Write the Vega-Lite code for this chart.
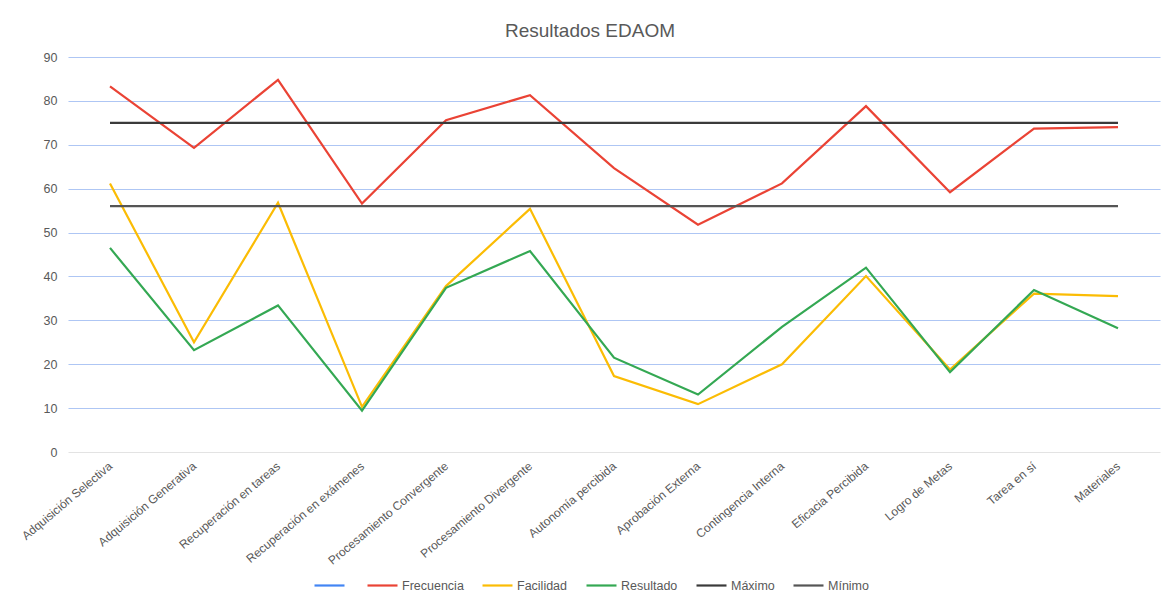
{
  "$schema": "https://vega.github.io/schema/vega-lite/v6.json",
  "width": 1092,
  "height": 395,
  "autosize": {"type": "none"},
  "padding": {"left": 68, "top": 57, "right": 4, "bottom": 146},
  "background": "white",
  "config": {
    "view": {"stroke": null},
    "font": "Liberation Sans",
    "axis": {"labelFont": "Liberation Sans", "labelColor": "#595959"}
  },
  "title": {
    "text": "Resultados EDAOM",
    "fontSize": 19,
    "fontWeight": "normal",
    "color": "#595959",
    "anchor": "middle",
    "offset": 10,
    "dx": -24
  },
  "data": {
    "values": [
      {"categoria": "Adquisición Selectiva", "serie": "Frecuencia", "valor": 83.3},
      {"categoria": "Adquisición Generativa", "serie": "Frecuencia", "valor": 69.3},
      {"categoria": "Recuperación en tareas", "serie": "Frecuencia", "valor": 84.8},
      {"categoria": "Recuperación en exámenes", "serie": "Frecuencia", "valor": 56.6},
      {"categoria": "Procesamiento Convergente", "serie": "Frecuencia", "valor": 75.6},
      {"categoria": "Procesamiento Divergente", "serie": "Frecuencia", "valor": 81.3},
      {"categoria": "Autonomía percibida", "serie": "Frecuencia", "valor": 64.7},
      {"categoria": "Aprobación Externa", "serie": "Frecuencia", "valor": 51.8},
      {"categoria": "Contingencia Interna", "serie": "Frecuencia", "valor": 61.2},
      {"categoria": "Eficacia Percibida", "serie": "Frecuencia", "valor": 78.8},
      {"categoria": "Logro de Metas", "serie": "Frecuencia", "valor": 59.2},
      {"categoria": "Tarea en sí", "serie": "Frecuencia", "valor": 73.7},
      {"categoria": "Materiales", "serie": "Frecuencia", "valor": 74.0},
      {"categoria": "Adquisición Selectiva", "serie": "Facilidad", "valor": 61.2},
      {"categoria": "Adquisición Generativa", "serie": "Facilidad", "valor": 25.0},
      {"categoria": "Recuperación en tareas", "serie": "Facilidad", "valor": 56.8},
      {"categoria": "Recuperación en exámenes", "serie": "Facilidad", "valor": 10.3},
      {"categoria": "Procesamiento Convergente", "serie": "Facilidad", "valor": 37.8},
      {"categoria": "Procesamiento Divergente", "serie": "Facilidad", "valor": 55.4},
      {"categoria": "Autonomía percibida", "serie": "Facilidad", "valor": 17.3},
      {"categoria": "Aprobación Externa", "serie": "Facilidad", "valor": 10.9},
      {"categoria": "Contingencia Interna", "serie": "Facilidad", "valor": 20.0},
      {"categoria": "Eficacia Percibida", "serie": "Facilidad", "valor": 40.1},
      {"categoria": "Logro de Metas", "serie": "Facilidad", "valor": 18.8},
      {"categoria": "Tarea en sí", "serie": "Facilidad", "valor": 36.1},
      {"categoria": "Materiales", "serie": "Facilidad", "valor": 35.5},
      {"categoria": "Adquisición Selectiva", "serie": "Resultado", "valor": 46.5},
      {"categoria": "Adquisición Generativa", "serie": "Resultado", "valor": 23.2},
      {"categoria": "Recuperación en tareas", "serie": "Resultado", "valor": 33.4},
      {"categoria": "Recuperación en exámenes", "serie": "Resultado", "valor": 9.4},
      {"categoria": "Procesamiento Convergente", "serie": "Resultado", "valor": 37.4},
      {"categoria": "Procesamiento Divergente", "serie": "Resultado", "valor": 45.8},
      {"categoria": "Autonomía percibida", "serie": "Resultado", "valor": 21.5},
      {"categoria": "Aprobación Externa", "serie": "Resultado", "valor": 13.1},
      {"categoria": "Contingencia Interna", "serie": "Resultado", "valor": 28.5},
      {"categoria": "Eficacia Percibida", "serie": "Resultado", "valor": 42.0},
      {"categoria": "Logro de Metas", "serie": "Resultado", "valor": 18.2},
      {"categoria": "Tarea en sí", "serie": "Resultado", "valor": 36.9},
      {"categoria": "Materiales", "serie": "Resultado", "valor": 28.2},
      {"categoria": "Adquisición Selectiva", "serie": "Máximo", "valor": 75},
      {"categoria": "Adquisición Generativa", "serie": "Máximo", "valor": 75},
      {"categoria": "Recuperación en tareas", "serie": "Máximo", "valor": 75},
      {"categoria": "Recuperación en exámenes", "serie": "Máximo", "valor": 75},
      {"categoria": "Procesamiento Convergente", "serie": "Máximo", "valor": 75},
      {"categoria": "Procesamiento Divergente", "serie": "Máximo", "valor": 75},
      {"categoria": "Autonomía percibida", "serie": "Máximo", "valor": 75},
      {"categoria": "Aprobación Externa", "serie": "Máximo", "valor": 75},
      {"categoria": "Contingencia Interna", "serie": "Máximo", "valor": 75},
      {"categoria": "Eficacia Percibida", "serie": "Máximo", "valor": 75},
      {"categoria": "Logro de Metas", "serie": "Máximo", "valor": 75},
      {"categoria": "Tarea en sí", "serie": "Máximo", "valor": 75},
      {"categoria": "Materiales", "serie": "Máximo", "valor": 75},
      {"categoria": "Adquisición Selectiva", "serie": "Mínimo", "valor": 56},
      {"categoria": "Adquisición Generativa", "serie": "Mínimo", "valor": 56},
      {"categoria": "Recuperación en tareas", "serie": "Mínimo", "valor": 56},
      {"categoria": "Recuperación en exámenes", "serie": "Mínimo", "valor": 56},
      {"categoria": "Procesamiento Convergente", "serie": "Mínimo", "valor": 56},
      {"categoria": "Procesamiento Divergente", "serie": "Mínimo", "valor": 56},
      {"categoria": "Autonomía percibida", "serie": "Mínimo", "valor": 56},
      {"categoria": "Aprobación Externa", "serie": "Mínimo", "valor": 56},
      {"categoria": "Contingencia Interna", "serie": "Mínimo", "valor": 56},
      {"categoria": "Eficacia Percibida", "serie": "Mínimo", "valor": 56},
      {"categoria": "Logro de Metas", "serie": "Mínimo", "valor": 56},
      {"categoria": "Tarea en sí", "serie": "Mínimo", "valor": 56},
      {"categoria": "Materiales", "serie": "Mínimo", "valor": 56}
    ]
  },
  "mark": {"type": "line", "strokeWidth": 2.2},
  "encoding": {
    "x": {
      "field": "categoria",
      "type": "nominal",
      "sort": null,
      "scale": {"type": "point", "padding": 0.5},
      "axis": {
        "title": null,
        "labelAngle": -40,
        "labelAlign": "right",
        "labelBaseline": "middle",
        "labelFontSize": 12,
        "labelPadding": 12,
        "ticks": false,
        "domain": false,
        "labelOverlap": false,
        "labelLimit": 0
      }
    },
    "y": {
      "field": "valor",
      "type": "quantitative",
      "scale": {"domain": [0, 90], "nice": false},
      "axis": {
        "title": null,
        "values": [0, 10, 20, 30, 40, 50, 60, 70, 80, 90],
        "labelFontSize": 12.5,
        "labelPadding": 11,
        "ticks": false,
        "domain": false,
        "gridColor": {"condition": {"test": "datum.value === 0", "value": "#e3e3e3"}, "value": "#aec6f4"},
        "gridWidth": 1.2
      }
    },
    "color": {
      "field": "serie",
      "type": "nominal",
      "scale": {
        "domain": [" ", "Frecuencia", "Facilidad", "Resultado", "Máximo", "Mínimo"],
        "range": ["#4285f4", "#ea4335", "#fbbc04", "#34a853", "#3a3a3a", "#555555"]
      },
      "legend": {
        "title": null,
        "orient": "none",
        "direction": "horizontal",
        "legendX": 245,
        "legendY": 512,
        "symbolType": "stroke",
        "symbolSize": 900,
        "symbolStrokeWidth": 2.2,
        "labelFontSize": 12.5,
        "labelColor": "#595959",
        "labelOffset": 3,
        "columnPadding": 14
      }
    }
  }
}
